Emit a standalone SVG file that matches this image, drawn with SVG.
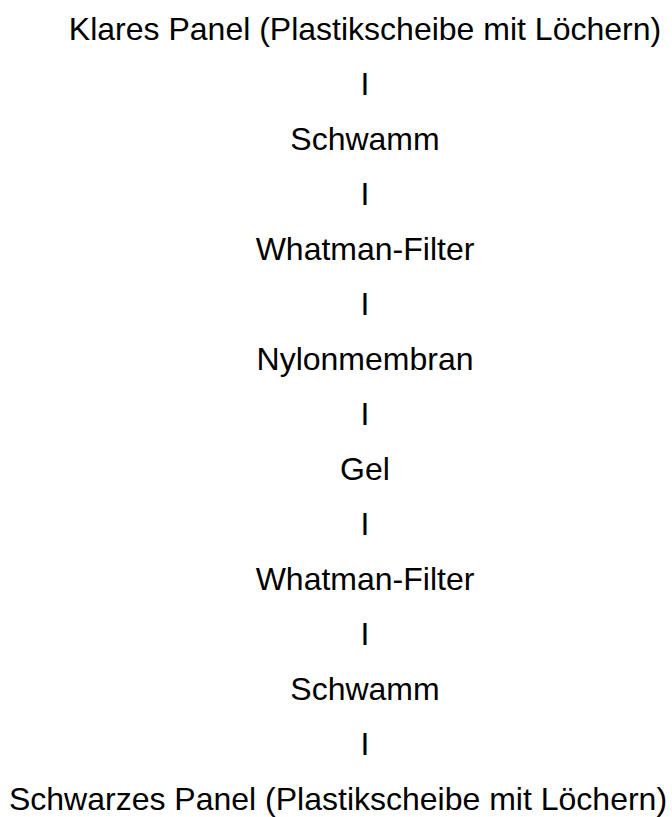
<svg xmlns="http://www.w3.org/2000/svg" width="672" height="817" viewBox="0 0 672 817">
<style>
text{font-family:"Liberation Sans",Arial,Helvetica,sans-serif;font-size:32px;fill:#000;text-anchor:middle}
.sep{text-anchor:middle}
</style>
<rect width="672" height="817" fill="#fff"/>
<g id="connectors">
<text class="sep" x="365" y="95">I</text>
<text class="sep" x="365" y="205">I</text>
<text class="sep" x="365" y="315">I</text>
<text class="sep" x="365" y="425">I</text>
<text class="sep" x="365" y="535">I</text>
<text class="sep" x="365" y="645">I</text>
<text class="sep" x="365" y="755">I</text>
</g>
<g id="n1"><text x="365" y="40">Klares Panel (Plastikscheibe mit Löchern)</text></g>
<g id="n2"><text x="365" y="150">Schwamm</text></g>
<g id="n3"><text x="365" y="260">Whatman-Filter</text></g>
<g id="n4"><text x="365" y="370">Nylonmembran</text></g>
<g id="n5"><text x="365" y="480">Gel</text></g>
<g id="n6"><text x="365" y="590">Whatman-Filter</text></g>
<g id="n7"><text x="365" y="700">Schwamm</text></g>
<g id="n8"><text x="338" y="810">Schwarzes Panel (Plastikscheibe mit Löchern)</text></g>
</svg>
